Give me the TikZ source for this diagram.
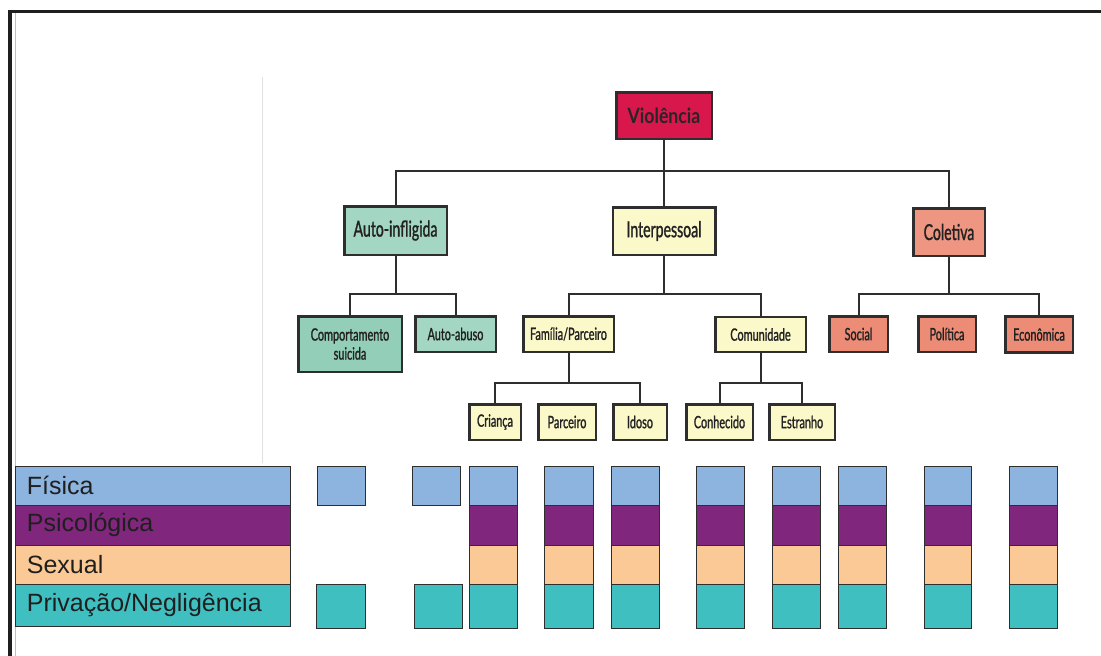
\documentclass[tikz,border=0pt]{standalone}
\usepackage{fontspec}
\setmainfont{Liberation Sans}
\newfontfamily\condf[FakeStretch=0.64,FakeBold=1.2]{Lato}
\newfontfamily\condbf[FakeStretch=0.84]{Lato Bold}
\definecolor{violc}{HTML}{D8174C}
\definecolor{autoc}{HTML}{A3D6C3}
\definecolor{autoc2}{HTML}{93CEB8}
\definecolor{interc}{HTML}{FBF8C9}
\definecolor{coletc}{HTML}{EE9681}
\definecolor{coletc2}{HTML}{EC8C77}
\definecolor{fisc}{HTML}{8DB3DF}
\definecolor{psic}{HTML}{80267C}
\definecolor{sexc}{HTML}{FAC995}
\definecolor{privc}{HTML}{40BFC1}
\definecolor{linec}{HTML}{2E2E2E}
\definecolor{textc}{HTML}{222222}
\begin{document}
\begin{tikzpicture}[x=1pt,y=-1pt,
  box/.style={draw=linec,line width=2.5pt,inner sep=0pt,align=center,text=textc},
  big/.style={box,font=\condf\fontsize{22}{24}\selectfont},
  small/.style={box,font=\condf\fontsize{17}{20}\selectfont},
  conn/.style={draw=linec,line width=2pt},
  legbar/.style={draw=linec,line width=0.8pt,inner sep=0pt,minimum width=275pt,anchor=west,text width=252pt,align=left,font=\fontsize{25}{27}\selectfont,text=black!88},
  cell/.style={draw=linec,line width=0.9pt}
]
\useasboundingbox (0,0) rectangle (1101,656);
% frame
\draw[line width=3pt,draw=black!88] (9,11) -- (1101,11);
\draw[line width=4pt,draw=black!88] (10,9.5) -- (10,656);
\draw[line width=1pt,draw=black!25] (15,13) -- (15,656);
\draw[line width=1pt,draw=black!12] (262,77) -- (262,463);

% level 0
\node[box,fill=violc,minimum width=95.5pt,minimum height=46.5pt,font=\condbf\fontsize{21}{23}\selectfont,text=black!85] (viol) at (664,115.5) {Violência};
% level 1
\node[big,fill=autoc,minimum width=102.5pt,minimum height=48.5pt] (auto) at (395.5,230.5) {Auto-infligida};
\node[big,fill=interc,minimum width=102.5pt,minimum height=47.5pt] (inter) at (664,231) {Interpessoal};
\node[big,fill=coletc,minimum width=71.5pt,minimum height=47.5pt] (colet) at (949,232) {Coletiva};
% level 2
\node[small,fill=autoc2,minimum width=103.5pt,minimum height=55.5pt] (comp) at (350,344) {Comportamento\\[-1pt]suicida};
\node[small,fill=autoc,minimum width=80.5pt,minimum height=35.5pt] (abuso) at (455.5,334) {Auto-abuso};
\node[small,fill=interc,minimum width=90.5pt,minimum height=35.5pt] (fam) at (568.5,334) {Família/Parceiro};
\node[small,fill=interc,minimum width=90.5pt,minimum height=35pt] (comu) at (760.5,334.5) {Comunidade};
\node[small,fill=coletc2,minimum width=58.5pt,minimum height=35.5pt] (social) at (858.5,334) {Social};
\node[small,fill=coletc2,minimum width=57.5pt,minimum height=35.5pt] (polit) at (947,334) {Política};
\node[small,fill=coletc2,minimum width=67.5pt,minimum height=36pt] (econ) at (1039,334.5) {Econômica};
% level 3
\node[small,fill=interc,minimum width=51.5pt,minimum height=35.5pt] (crianca) at (495,422) {Criança};
\node[small,fill=interc,minimum width=57.5pt,minimum height=35.5pt] (parc) at (567,422) {Parceiro};
\node[small,fill=interc,minimum width=53.5pt,minimum height=35.5pt] (idoso) at (640,422) {Idoso};
\node[small,fill=interc,minimum width=66.5pt,minimum height=35.5pt] (conhec) at (719.5,422) {Conhecido};
\node[small,fill=interc,minimum width=65.5pt,minimum height=35.5pt] (estr) at (802,422) {Estranho};

% connectors
\path[conn] (viol.south) -- ++(0,31) -| (auto.north);
\path[conn] (viol.south) -- ++(0,31) -| (colet.north);
\path[conn] (viol.south) -- (inter.north);
\path[conn] (auto.south) -- ++(0,38) -| (comp.north);
\path[conn] (auto.south) -- ++(0,38) -| (abuso.north);
\path[conn] (inter.south) -- ++(0,38) -| (fam.north);
\path[conn] (inter.south) -- ++(0,38) -| (comu.north);
\path[conn] (colet.south) -- ++(0,37) -| (social.north);
\path[conn] (colet.south) -- ++(0,37) -| (econ.north);
\path[conn] (fam.south) -- ++(0,30) -| (crianca.north);
\path[conn] (fam.south) -- ++(0,30) -| (idoso.north);
\path[conn] (comu.south) -- ++(0,30) -| (conhec.north);
\path[conn] (comu.south) -- ++(0,30) -| (estr.north);

% legend bars
\node[legbar,fill=fisc,minimum height=39pt] (lfis) at (15,485.5) {Física};
\node[legbar,fill=psic,minimum height=40pt] (lpsi) at (15,525) {Psicológica};
\node[legbar,fill=sexc,minimum height=39pt] (lsex) at (15,564.5) {Sexual};
\node[legbar,fill=privc,minimum height=42pt] (lpriv) at (15,605) {Privação/Negligência};

% partial columns
\draw[cell,fill=fisc] (317,466) rectangle (365,505);
\draw[cell,fill=privc] (316,584) rectangle (365,628);
\draw[cell,fill=fisc] (412,466) rectangle (460,505);
\draw[cell,fill=privc] (414,584) rectangle (462,628);
% full columns
\foreach \a/\b in {469/517,544/593,611/659,696/744,772/820,838/886,924/971,1009/1057}{
  \draw[cell,fill=fisc] (\a,466) rectangle (\b,505);
  \draw[cell,fill=psic] (\a,505) rectangle (\b,545);
  \draw[cell,fill=sexc] (\a,545) rectangle (\b,584);
  \draw[cell,fill=privc] (\a,584) rectangle (\b,628);
}
\end{tikzpicture}
\end{document}
